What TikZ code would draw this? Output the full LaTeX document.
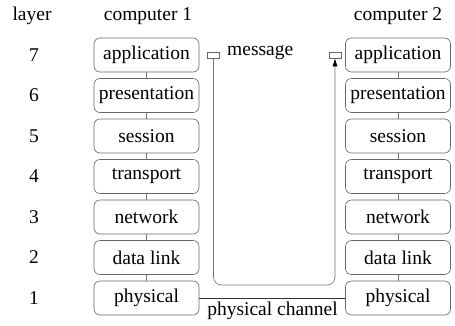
\documentclass[tikz,border=0pt]{standalone}
\usepackage{fontspec}
\setmainfont{Liberation Serif}
\usetikzlibrary{arrows.meta}
\begin{document}
\begin{tikzpicture}[x=1pt,y=-1pt,
  layerbox/.style={draw=black!60, line width=0.6pt, rounded corners=6pt, minimum width=105pt, minimum height=34pt, inner sep=0pt, font=\rmfamily\fontsize{19.5}{21}\selectfont},
  lbl/.style={font=\rmfamily\fontsize{19.5}{21}\selectfont, inner sep=0pt},
  link/.style={draw=black!55, line width=0.6pt},
  sq/.style={draw=black!60, line width=0.6pt, minimum width=12pt, minimum height=6pt, inner sep=0pt}]
\useasboundingbox (0,0) rectangle (455,325);
\node[lbl] (hl) at (32,16) {layer};
\node[lbl] (h1) at (148,16) {computer 1};
\node[lbl] (h2) at (398,16) {computer 2};
\foreach \i/\n/\t in {7/55/application,6/95.5/presentation,5/136/session,4/176.5/transport,3/217/network,2/257.5/data link,1/298/physical}{
  \node[lbl] (n\i) at (34,\n) {\i};
  \node[layerbox] (a\i) at (146.5,\n) {\t};
  \node[layerbox] (b\i) at (398,\n) {\t};
}
\foreach \i/\j in {7/6,6/5,5/4,4/3,3/2,2/1}{
  \draw[link] (a\i) -- (a\j);
  \draw[link] (b\i) -- (b\j);
}
\node[sq] (s1) at (213.5,55) {};
\node[sq] (s2) at (335,55) {};
\node[lbl, anchor=west] (msg) at (227,53) {message};
\coordinate (c1) at (213.5,285);
\coordinate (c2) at (335,285);
\draw[link, rounded corners=8pt, -{Latex[length=8pt,width=5pt,black]}] (s1.south) -- (c1) -- (c2) -- (s2.south);
\draw[draw=black!80, line width=1pt] (a1.east) -- (b1.west);
\node[lbl] (pc) at (272.5,311) {physical channel};
\end{tikzpicture}
\end{document}
